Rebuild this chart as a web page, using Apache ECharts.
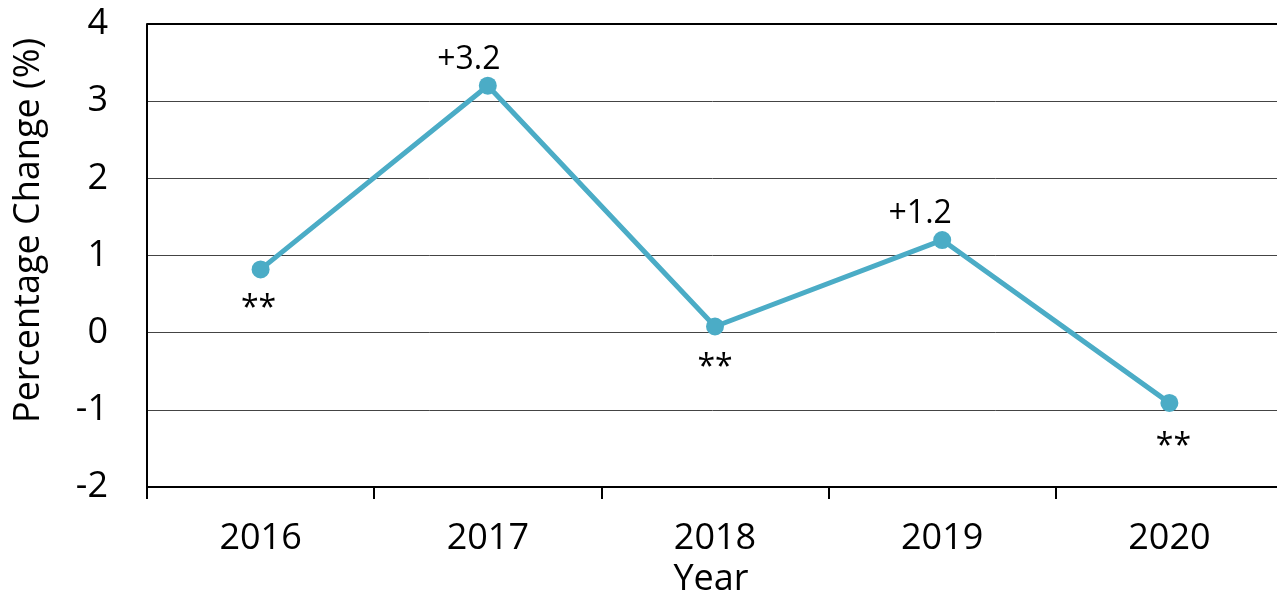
<!DOCTYPE html>
<html>
<head>
<meta charset="utf-8">
<script src="https://cdn.jsdelivr.net/npm/echarts@6/dist/echarts.min.js"></script>
<style>
html,body{margin:0;padding:0;background:#fff;overflow:hidden;}
#chart{width:1277px;height:597px;}
</style>
</head>
<body>
<div id="chart"></div>
<script>
const categories = ['2016', '2017', '2018', '2019', '2020'];
const values = [0.82, 3.2, 0.08, 1.2, -0.91];
const labelTexts = ['**', '+3.2', '**', '+1.2', '**'];
const yTicks = [-2, -1, 0, 1, 2, 3, 4];

// label placement (style only)
const labelPos = ['bottom', 'top', 'bottom', 'top', 'bottom'];
const labelDist = [15, 1, 16, 1, 19];
const labelOffX = [-2, -19, 0, -22, 4];

const FONT = '"Open Sans", "Noto Sans", sans-serif';
const chart = echarts.init(document.getElementById('chart'));

const seriesData = values.map((v, i) => ({
  value: v,
  label: {
    show: true,
    position: labelPos[i],
    distance: labelDist[i],
    offset: [labelOffX[i], 0],
    formatter: () => labelTexts[i],
    fontSize: 32,
    fontFamily: FONT,
    color: '#000'
  }
}));

chart.setOption({
  animation: false,
  backgroundColor: '#fff',
  grid: { left: 147, top: 24, width: 1136, height: 463, containLabel: false, outerBoundsMode: 'none' },
  xAxis: {
    type: 'category',
    data: categories,
    boundaryGap: true,
    name: 'Year',
    nameLocation: 'middle',
    nameGap: 74,
    nameTextStyle: { fontSize: 36, fontFamily: FONT, color: '#000', padding: [0, 8, 0, 0] },
    axisLine: { show: true, onZero: false, lineStyle: { color: '#000', width: 2 } },
    axisTick: { show: true, length: 12, lineStyle: { color: '#000', width: 2 } },
    axisLabel: { fontSize: 36, fontFamily: FONT, color: '#000', margin: 34 },
    splitLine: { show: false }
  },
  yAxis: {
    type: 'value',
    min: yTicks[0],
    max: yTicks[yTicks.length - 1],
    interval: 1,
    name: 'Percentage Change (%)',
    nameLocation: 'middle',
    nameGap: 100,
    nameTextStyle: { fontSize: 36, fontFamily: FONT, color: '#000', padding: [0, 0, 0, 50] },
    axisLine: { show: true, lineStyle: { color: '#000', width: 2 } },
    axisTick: { show: false },
    axisLabel: { fontSize: 36, fontFamily: FONT, color: '#000', margin: 39 },
    splitLine: { show: true, lineStyle: { color: '#444', width: 1 } }
  },
  series: [{
    type: 'line',
    data: seriesData,
    symbol: 'circle',
    symbolSize: 18,
    lineStyle: { color: '#4BACC6', width: 5 },
    itemStyle: { color: '#4BACC6' },
    z: 5
  }],
  graphic: [{
    type: 'line',
    shape: { x1: 147, y1: 24, x2: 1277, y2: 24 },
    style: { stroke: '#000', lineWidth: 2 },
    z: 10
  }]
});
</script>
</body>
</html>
